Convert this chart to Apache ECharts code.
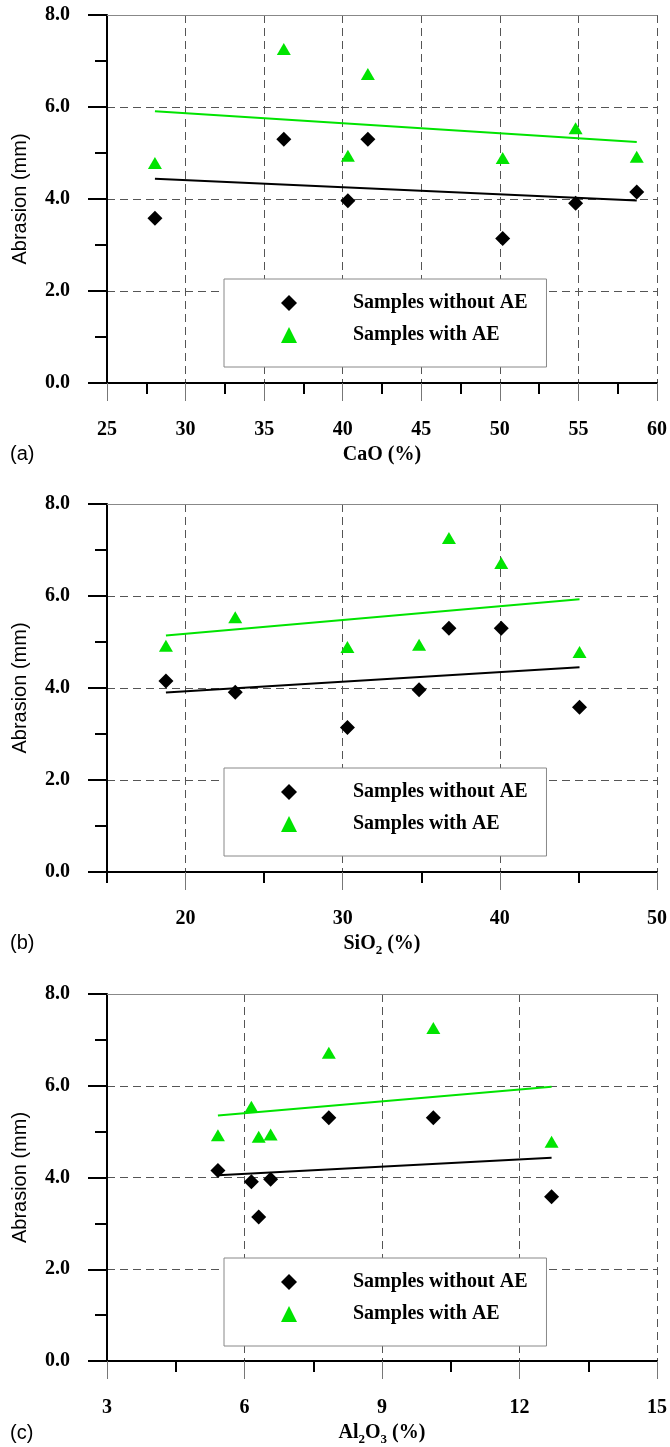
<!DOCTYPE html>
<html>
<head>
<meta charset="utf-8">
<title>Abrasion vs. oxide content</title>
<script src="https://cdn.jsdelivr.net/npm/echarts@6/dist/echarts.min.js"></script>
<style>
  html, body { margin: 0; padding: 0; background: #fff; }
  #chart { width: 670px; height: 1447px; }
</style>
</head>
<body>
<div id="chart"></div>
<script>
// Oxide content of the seven samples (%)
const cao = [28.05, 36.25, 40.33, 41.6, 50.18, 54.82, 58.71];
const sio2 = [45.07, 36.76, 34.86, 40.09, 30.30, 23.16, 18.75];
const al2o3 = [12.70, 10.12, 6.57, 7.84, 6.31, 6.15, 5.42];

// Abrasion depth (mm) of the same samples
const abrasionWithoutAE = [3.58, 5.30, 3.96, 5.30, 3.14, 3.91, 4.15];
const abrasionWithAE = [4.78, 7.26, 4.94, 6.72, 4.89, 5.54, 4.92];

// Linear trend lines: end points (x) and fitted abrasion at those ends
const caoFitX = [28.05, 58.71];
const caoFitWithout = [4.44, 3.97];
const caoFitWith = [5.91, 5.24];
const sio2FitX = [18.75, 45.07];
const sio2FitWithout = [3.90, 4.45];
const sio2FitWith = [5.14, 5.93];
const al2o3FitX = [5.42, 12.70];
const al2o3FitWithout = [4.05, 4.43];
const al2o3FitWith = [5.35, 5.98];

// Axis ticks
const caoTicks = [25, 30, 35, 40, 45, 50, 55, 60];
const caoMidTicks = [27.5, 32.5, 37.5, 42.5, 47.5, 52.5, 57.5];
const sio2Ticks = [20, 30, 40, 50];
const sio2MidTicks = [15, 25, 35, 45];
const al2o3Ticks = [3, 6, 9, 12, 15];
const al2o3MidTicks = [4.5, 7.5, 10.5, 13.5];

const legendNames = ['Samples without AE', 'Samples with AE'];
const panelLetters = ['(a)', '(b)', '(c)'];

const GREEN = '#00e400';
const GRID_GREY = '#555';
const SERIF = 'Liberation Serif, Times New Roman, serif';
const SANS = 'Liberation Sans, Arial, sans-serif';

const panels = [
  { name: 'CaO (%)', min: 25, max: 60, ticks: caoTicks, mid: caoMidTicks,
    x: cao, fitX: caoFitX, fitWithout: caoFitWithout, fitWith: caoFitWith },
  { name: '{n|SiO}{s|2}{n| (%)}', min: 15, max: 50, ticks: sio2Ticks, mid: sio2MidTicks,
    x: sio2, fitX: sio2FitX, fitWithout: sio2FitWithout, fitWith: sio2FitWith },
  { name: '{n|Al}{s|2}{n|O}{s|3}{n| (%)}', min: 3, max: 15, ticks: al2o3Ticks, mid: al2o3MidTicks,
    x: al2o3, fitX: al2o3FitX, fitWithout: al2o3FitWithout, fitWith: al2o3FitWith }
];

const gridTops = [15, 504, 994];
const gridHeight = 368;

const option = {
  animation: false,
  backgroundColor: '#fff',
  title: [], grid: [], xAxis: [], yAxis: [], legend: [], series: []
};

const pairs = (xs, ys) => xs.map((v, i) => [v, ys[i]]);

panels.forEach((p, k) => {
  const top = gridTops[k];
  option.grid.push({ left: 107, right: 12, top: top, height: gridHeight });

  // bottom axis: labels, dashed grid lines and their short extensions
  option.xAxis.push({
    type: 'value', gridIndex: k, min: p.min, max: p.max, position: 'bottom',
    axisLine: { onZero: false, lineStyle: { color: '#000', width: 2 } },
    axisTick: { show: true, customValues: p.ticks, length: 18, lineStyle: { color: '#777', width: 1 } },
    axisLabel: { customValues: p.ticks, margin: 37, color: '#000',
      fontFamily: SERIF, fontWeight: 'bold', fontSize: 20 },
    splitLine: { show: true, lineStyle: { color: GRID_GREY, width: 1, type: [8, 5] } },
    name: p.name, nameLocation: 'middle', nameGap: 62,
    nameTextStyle: { color: '#000', fontFamily: SERIF, fontWeight: 'bold', fontSize: 20,
      rich: {
        n: { fontFamily: SERIF, fontWeight: 'bold', fontSize: 20, color: '#000', padding: [0, 0, 3, 0], verticalAlign: 'bottom' },
        s: { fontFamily: SERIF, fontWeight: 'bold', fontSize: 13, color: '#000', verticalAlign: 'bottom' }
      } }
  });
  // bottom axis overlay: heavy ticks midway between labels
  option.xAxis.push({
    type: 'value', gridIndex: k, min: p.min, max: p.max, position: 'bottom',
    axisLine: { show: false },
    axisTick: { show: true, customValues: p.mid, length: 11, lineStyle: { color: '#000', width: 2 } },
    axisLabel: { show: false }, splitLine: { show: false }
  });
  // top frame line
  option.xAxis.push({
    type: 'value', gridIndex: k, min: p.min, max: p.max, position: 'top',
    axisLine: { onZero: false, lineStyle: { color: '#888', width: 1 } },
    axisTick: { show: false }, axisLabel: { show: false }, splitLine: { show: false }
  });

  option.yAxis.push({
    type: 'value', gridIndex: k, min: 0, max: 8, interval: 2, position: 'left',
    axisLine: { onZero: false, lineStyle: { color: '#000', width: 2 } },
    axisTick: { show: true, length: 19, lineStyle: { color: '#000', width: 2 } },
    minorTick: { show: true, splitNumber: 2, length: 12, lineStyle: { color: '#000', width: 2 } },
    axisLabel: { margin: 37, color: '#000', fontFamily: SERIF, fontWeight: 'bold', fontSize: 20,
      formatter: v => v.toFixed(1) },
    splitLine: { show: true, lineStyle: { color: GRID_GREY, width: 1, type: [8, 5] } },
    name: 'Abrasion (mm)', nameLocation: 'middle', nameGap: 77,
    nameTextStyle: { color: '#000', fontFamily: SANS, fontSize: 20 }
  });

  option.title.push({
    text: panelLetters[k], left: 10, top: top + 429, padding: 0,
    textStyle: { color: '#000', fontFamily: SANS, fontWeight: 'normal', fontSize: 20 }
  });

  option.legend.push({
    left: 224, top: top + 264, orient: 'vertical', selectedMode: false,
    backgroundColor: '#fff', borderColor: '#888', borderWidth: 1,
    padding: [14, 19, 22, 57], itemGap: 12, itemWidth: 16, itemHeight: 16,
    formatter: name => '{t|' + name + '}',
    textStyle: { color: '#000', fontFamily: SERIF, fontWeight: 'bold', fontSize: 20, lineHeight: 20,
      rich: { t: { fontFamily: SERIF, fontWeight: 'bold', fontSize: 20, lineHeight: 20, color: '#000', padding: [0, 0, 0, 51] } } },
    data: [
      { name: legendNames[0], icon: 'diamond', itemStyle: { color: '#000' } },
      { name: legendNames[1], icon: 'triangle', itemStyle: { color: GREEN } }
    ]
  });

  const xi = k * 3;
  option.series.push(
    { type: 'line', name: 'trend without AE', xAxisIndex: xi, yAxisIndex: k,
      data: pairs(p.fitX, p.fitWithout), symbol: 'none', silent: true,
      lineStyle: { color: '#000', width: 2 } },
    { type: 'line', name: 'trend with AE', xAxisIndex: xi, yAxisIndex: k,
      data: pairs(p.fitX, p.fitWith), symbol: 'none', silent: true,
      lineStyle: { color: GREEN, width: 2 } },
    { type: 'scatter', name: legendNames[0], xAxisIndex: xi, yAxisIndex: k,
      data: pairs(p.x, abrasionWithoutAE), symbol: 'diamond', symbolSize: 15,
      itemStyle: { color: '#000', opacity: 1 } },
    { type: 'scatter', name: legendNames[1], xAxisIndex: xi, yAxisIndex: k,
      data: pairs(p.x, abrasionWithAE), symbol: 'triangle', symbolSize: [14, 12],
      itemStyle: { color: GREEN, opacity: 1 } }
  );
});

const chart = echarts.init(document.getElementById('chart'), null, { renderer: 'canvas' });
chart.setOption(option);
</script>
</body>
</html>
